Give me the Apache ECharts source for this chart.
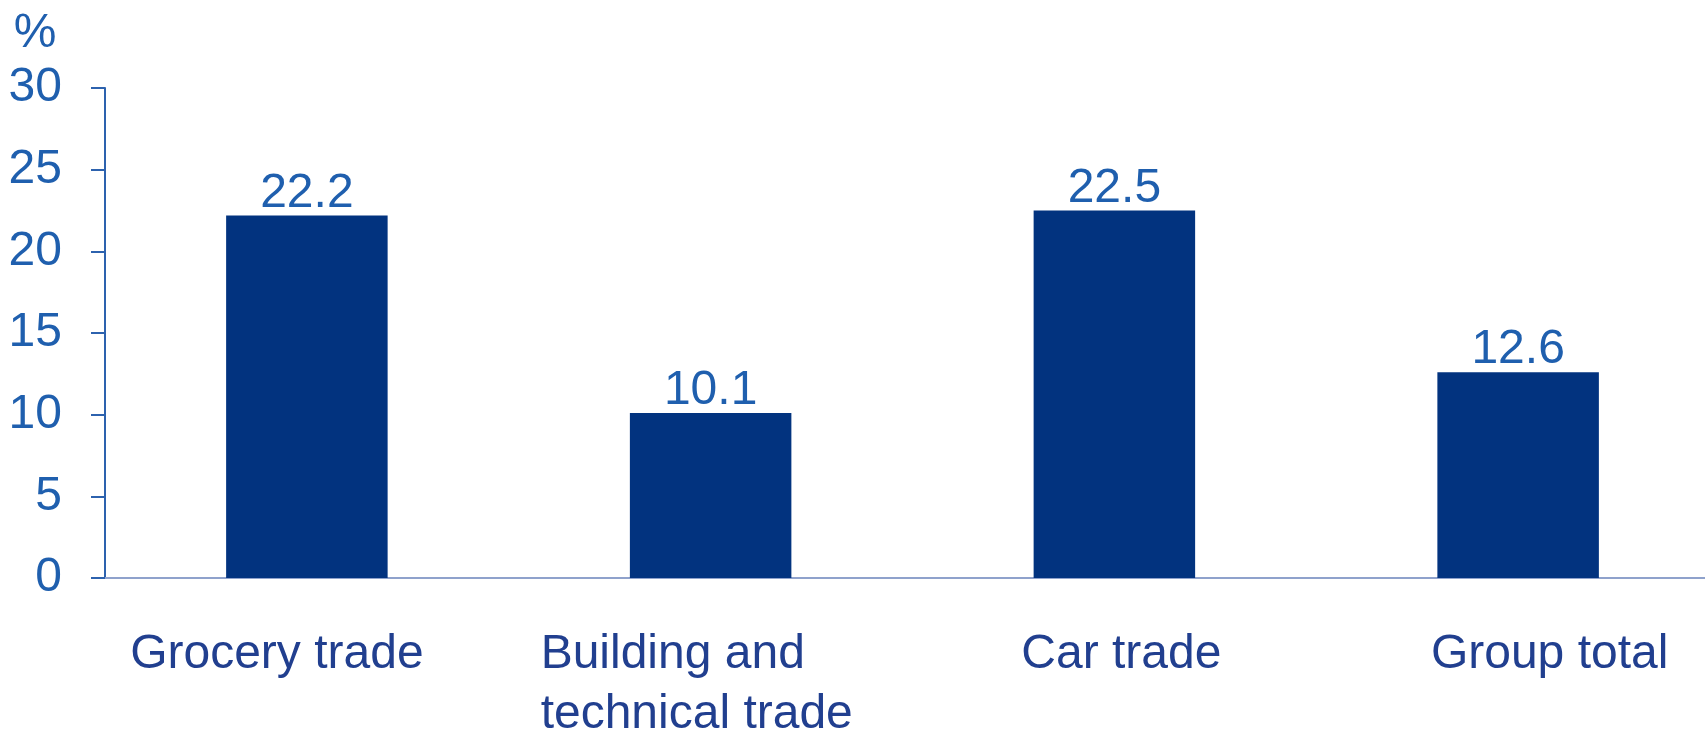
<!DOCTYPE html>
<html>
<head>
<meta charset="utf-8">
<script src="https://cdn.jsdelivr.net/npm/echarts@6/dist/echarts.min.js"></script>
<style>
html,body{margin:0;padding:0;background:#fff;}
#chart{width:1705px;height:729px;}
</style>
</head>
<body>
<div id="chart"></div>
<script>
const categories = ['Grocery trade', 'Building and\ntechnical trade', 'Car trade', 'Group total'];
const values = [22.2, 10.1, 22.5, 12.6];
const yTicks = [0, 5, 10, 15, 20, 25, 30];
const unitLabel = '%';

// label layout tweaks (not data)
const labelPads = [[0, 60, 0, 0], [0, 32, 0, 0], [0, 0, 0, 14], [0, 0, 0, 63]];

const font = "'Liberation Sans', Arial, Helvetica, sans-serif";
const chart = echarts.init(document.getElementById('chart'));

const xData = categories.map((c, i) => {
  const item = { value: c, textStyle: { padding: labelPads[i] } };
  if (c.indexOf('\n') >= 0) {
    item.textStyle.rich = { l: { width: 308, align: 'left', fontSize: 48, lineHeight: 60, color: '#213F8F', fontFamily: font } };
  }
  return item;
});

chart.setOption({
  animation: false,
  grid: { left: 105, right: -15, top: 88, bottom: 151, containLabel: false, outerBoundsMode: 'none' },
  xAxis: {
    type: 'category',
    data: xData,
    axisLine: { lineStyle: { color: '#8FA2CC', width: 2 } },
    axisTick: { show: false },
    axisLabel: {
      interval: 0,
      color: '#213F8F',
      fontSize: 48,
      lineHeight: 60,
      fontFamily: font,
      margin: 47,
      formatter: function (v) {
        if (v.indexOf('\n') >= 0) {
          return v.split('\n').map(s => '{l|' + s + '}').join('\n');
        }
        return v;
      }
    }
  },
  yAxis: {
    type: 'value',
    min: yTicks[0],
    max: yTicks[yTicks.length - 1],
    interval: yTicks[1] - yTicks[0],
    name: unitLabel,
    nameLocation: 'end',
    nameGap: 30,
    nameTextStyle: { color: '#1F5FAE', fontSize: 48, fontFamily: font, align: 'center', padding: [0, 140, 0, 0] },
    splitLine: { show: false },
    axisLine: { show: true, lineStyle: { color: '#2D62AE', width: 2 } },
    axisTick: { show: true, length: 14, lineStyle: { color: '#2D62AE', width: 2 } },
    axisLabel: { color: '#1F5FAE', fontSize: 48, fontFamily: font, margin: 43 }
  },
  series: [{
    type: 'bar',
    data: values,
    barWidth: '40%',
    itemStyle: { color: '#02337F' },
    label: {
      show: true,
      position: 'top',
      distance: -2,
      color: '#1F5FAE',
      fontSize: 48,
      fontFamily: font,
      formatter: p => p.value.toFixed(1)
    }
  }]
});
</script>
</body>
</html>
